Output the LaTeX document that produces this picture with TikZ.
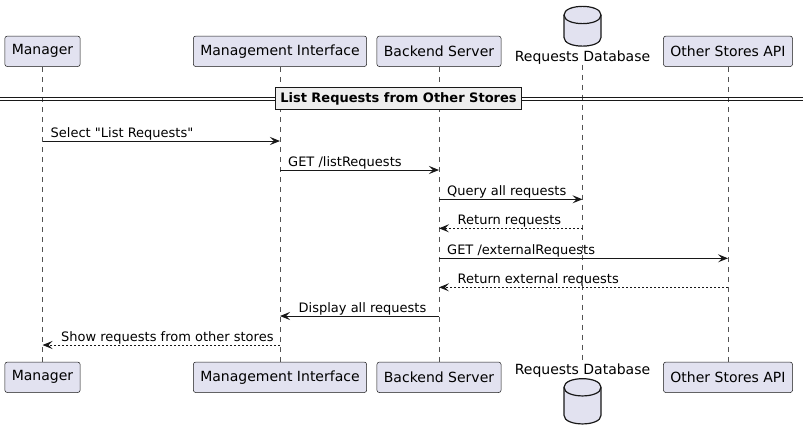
\documentclass[tikz,border=0pt]{standalone}
\usepackage{fontspec}
\setmainfont{DejaVu Sans}[Ligatures=TeXOff]
\usetikzlibrary{arrows.meta,positioning}
\definecolor{ink}{HTML}{181818}
\definecolor{lav}{HTML}{E2E2F0}
\definecolor{band}{HTML}{EEEEEE}
\newcommand{\dbcyl}[3]{\begin{scope}[shift={(#1,#2)}]\draw[ink,fill=lav,line width=1.2pt] (-18.5,9) .. controls (-18.5,-2.5) and (18.5,-2.5) .. (18.5,9) -- (18.5,#3-9) .. controls (18.5,#3+2.5) and (-18.5,#3+2.5) .. (-18.5,#3-9) -- cycle;\draw[ink,line width=1.2pt] (-18.5,9) .. controls (-18.5,20.5) and (18.5,20.5) .. (18.5,9);\end{scope}}
\begin{document}
\begin{tikzpicture}[x=1pt,y=-1pt,
  part/.style={draw=ink,fill=lav,line width=.5pt,rounded corners=2.5pt,inner xsep=7pt,minimum height=30.5pt,font=\fontsize{14}{16}\selectfont},
  life/.style={ink!75,line width=.5pt,dash pattern=on 5pt off 5pt},
  msg/.style={ink,line width=1pt,-{Stealth[length=10pt,width=8pt,inset=4pt]}},
  reply/.style={msg,dash pattern=on 2pt off 2pt},
  mtxt/.style={font=\fontsize{13}{15}\selectfont,inner sep=0pt}]
\useasboundingbox (0,0) rectangle (803,440);
% participants, top and bottom
\foreach \n/\x/\t in {mgr/42.5/Manager,mif/280/Management Interface,bs/439/Backend Server,os/728/Other Stores API}{
  \node[part] (\n T) at (\x,51.3){\t};
  \node[part] (\n B) at (\x,377.3){\t};
  \draw[life] (\n T.south) -- (\n B.north);}
\dbcyl{582.5}{6}{40.5}\dbcyl{582.5}{378.3}{46}
\node[mtxt,font=\fontsize{14}{16}\selectfont,anchor=base] (dbT) at (582.5,61.5){Requests Database};
\node[mtxt,font=\fontsize{14}{16}\selectfont,anchor=base] (dbB) at (582.5,374.5){Requests Database};
\draw[life] (dbT.south) -- (dbB.north);
% divider
\draw[ink,line width=.9pt] (0,97) -- (803,97) (0,100.3) -- (803,100.3);
\node[draw=ink,fill=band,line width=1.5pt,font=\bfseries\fontsize{13}{15}\selectfont,minimum height=22pt,inner xsep=5pt] (sep) at (398.5,98.7){List Requests from Other Stores};
% messages
\foreach \a/\b/\y/\s/\t in {mgr/mif/141/msg/{Select "List Requests"},mif/bs/170/msg/{GET /listRequests},bs/db/199.3/msg/{Query all requests},bs/os/258.3/msg/{GET /externalRequests}}{
  \draw[\s] (\a T.south |- 0,\y) coordinate (s) -- (\b T.south |- 0,\y);
  \node[mtxt,anchor=base west] at ([xshift=8pt,yshift=4pt]s){\t};}
\foreach \a/\b/\y/\s/\t in {db/bs/228.3/reply/{Return requests},os/bs/287.3/reply/{Return external requests},bs/mif/316/msg/{Display all requests},mif/mgr/345/reply/{Show requests from other stores}}{
  \draw[\s] (\a T.south |- 0,\y) -- (\b T.south |- 0,\y) coordinate (e);
  \node[mtxt,anchor=base west] at ([xshift=18.5pt,yshift=4pt]e){\t};}
\end{tikzpicture}
\end{document}
